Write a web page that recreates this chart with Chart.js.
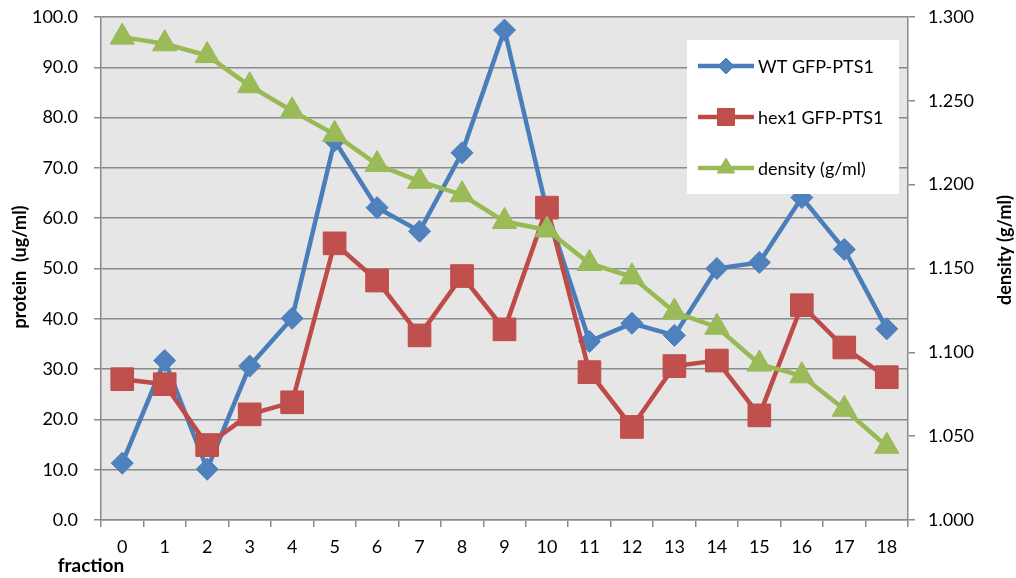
<!DOCTYPE html>
<html>
<head>
<meta charset="utf-8">
<script src="https://cdn.jsdelivr.net/npm/chart.js@4.4.1/dist/chart.umd.min.js"></script>
<style>
  html, body { margin: 0; padding: 0; background: #fff; }
  #wrap { width: 1016px; height: 578px; }
</style>
</head>
<body>
<div id="wrap"><canvas id="chart"></canvas></div>
<script>
// values
const fractions = ["0", "1", "2", "3", "4", "5", "6", "7", "8", "9", "10", "11", "12", "13", "14", "15", "16", "17", "18"];
const wtGfp = [11.3, 31.7, 10.1, 30.6, 40.1, 75.4, 62.1, 57.4, 73.0, 97.4, 61.5, 35.5, 39.1, 36.7, 50.0, 51.2, 64.1, 53.8, 38.0];
const hex1Gfp = [28.0, 27.0, 14.9, 21.0, 23.4, 55.0, 47.6, 36.7, 48.5, 37.9, 62.1, 29.4, 18.5, 30.6, 31.7, 20.8, 42.7, 34.3, 28.4];
const density = [1.288, 1.284, 1.277, 1.259, 1.244, 1.230, 1.212, 1.202, 1.194, 1.178, 1.173, 1.153, 1.145, 1.124, 1.115, 1.093, 1.086, 1.066, 1.044];

const FONT = "Lato, 'Open Sans', sans-serif";
const GRID = "#8a8a8a";

// plot background + white page
const backdrop = {
  id: "backdrop",
  beforeDraw(chart) {
    const { ctx, chartArea: a } = chart;
    ctx.save();
    ctx.fillStyle = "#fff";
    ctx.fillRect(0, 0, chart.width, chart.height);
    ctx.fillStyle = "#e6e6e6";
    ctx.fillRect(a.left, a.top, a.right - a.left, a.bottom - a.top);
    ctx.restore();
  },
};

function sideTitle(ctx, text, x, y) {
  ctx.save();
  ctx.translate(x, y);
  ctx.rotate(-Math.PI / 2);
  ctx.font = "bold 18px " + FONT;
  ctx.textAlign = "center";
  ctx.textBaseline = "middle";
  ctx.fillStyle = "#000";
  ctx.fillText(text, 0, 0);
  ctx.restore();
}

// boxed legend inside the plot, like the spreadsheet one, plus axis titles
const boxLegend = {
  id: "boxLegend",
  afterDraw(chart) {
    const { ctx } = chart;
    const x = 687, y = 40, w = 212, h = 154;
    ctx.save();
    ctx.fillStyle = "#fff";
    ctx.fillRect(x, y, w, h);
    chart.data.datasets.forEach((ds, i) => {
      const cy = 66 + i * 51;
      ctx.strokeStyle = ds.borderColor;
      ctx.lineWidth = 4.5;
      ctx.beginPath();
      ctx.moveTo(698, cy);
      ctx.lineTo(754, cy);
      ctx.stroke();
      ctx.fillStyle = ds.pointBackgroundColor;
      ctx.strokeStyle = ds.pointBorderColor;
      ctx.lineWidth = 1;
      Chart.helpers.drawPoint(ctx, { pointStyle: ds.pointStyle, radius: ds.legendRadius, borderWidth: 1 }, 726, cy);
      ctx.fillStyle = "#000";
      ctx.font = "18px " + FONT;
      ctx.textBaseline = "middle";
      ctx.textAlign = "left";
      ctx.fillText(ds.label, 758, cy + 1);
    });
    ctx.font = "bold 19px " + FONT;
    ctx.textAlign = "center";
    ctx.textBaseline = "middle";
    ctx.fillStyle = "#000";
    ctx.fillText("fraction", 91, 566);
    ctx.restore();
    sideTitle(ctx, "protein  (ug/ml)", 20, 267);
    sideTitle(ctx, "density (g/ml)", 1005, 250);
  },
};

// fixed axis box, no extra room for the outer tick labels
function fixWidth(w) {
  return (s) => {
    s.width = w;
    s.paddingTop = 0;
    s.paddingBottom = 0;
  };
}

new Chart(document.getElementById("chart"), {
  type: "line",
  data: {
    labels: fractions,
    datasets: [
      {
        label: "WT GFP-PTS1",
        data: wtGfp,
        yAxisID: "y",
        order: 3,
        borderColor: "#4a7ebb",
        borderWidth: 4.5,
        pointStyle: "rectRot",
        pointRadius: 11,
        legendRadius: 8,
        pointBackgroundColor: "#4f81bd",
        pointBorderColor: "#4a7ebb",
        pointBorderWidth: 1,
      },
      {
        label: "hex1 GFP-PTS1",
        data: hex1Gfp,
        yAxisID: "y",
        order: 2,
        borderColor: "#be4b48",
        borderWidth: 4.5,
        pointStyle: "rect",
        pointRadius: 16,
        legendRadius: 12,
        pointBackgroundColor: "#c0504d",
        pointBorderColor: "#be4b48",
        pointBorderWidth: 1,
      },
      {
        label: "density (g/ml)",
        data: density,
        yAxisID: "y2",
        order: 1,
        borderColor: "#98b954",
        borderWidth: 4.5,
        pointStyle: "triangle",
        pointRadius: 14,
        legendRadius: 10,
        pointBackgroundColor: "#9bbb59",
        pointBorderColor: "#98b954",
        pointBorderWidth: 1,
      },
    ],
  },
  options: {
    responsive: true,
    maintainAspectRatio: false,
    animation: false,
    layout: { padding: { top: 16, left: 0, right: 0, bottom: 0 } },
    plugins: { legend: { display: false }, tooltip: { enabled: false } },
    scales: {
      x: {
        type: "category",
        offset: true,
        grid: { offset: true, drawOnChartArea: false, tickLength: 7, color: GRID, lineWidth: 1.5 },
        border: { color: GRID, width: 1.5 },
        ticks: { color: "#000", font: { family: FONT, size: 18 }, padding: 9, maxRotation: 0, autoSkip: false },
        afterFit: (s) => { s.height = 58; },
      },
      y: {
        position: "left",
        min: 0,
        max: 100,
        ticks: { stepSize: 10, color: "#000", font: { family: FONT, size: 18 }, padding: 16, callback: (v) => v.toFixed(1) },
        grid: { color: GRID, lineWidth: 1.5, tickLength: 7 },
        border: { color: GRID, width: 1.5 },
        afterFit: fixWidth(101),
      },
      y2: {
        position: "right",
        min: 1.0,
        max: 1.3,
        ticks: { stepSize: 0.05, color: "#000", font: { family: FONT, size: 18 }, padding: 13, callback: (v) => v.toFixed(3) },
        grid: { drawOnChartArea: false, color: GRID, lineWidth: 1.5, tickLength: 7 },
        border: { color: GRID, width: 1.5 },
        afterFit: fixWidth(108),
      },
    },
  },
  plugins: [backdrop, boxLegend],
});
</script>
</body>
</html>
